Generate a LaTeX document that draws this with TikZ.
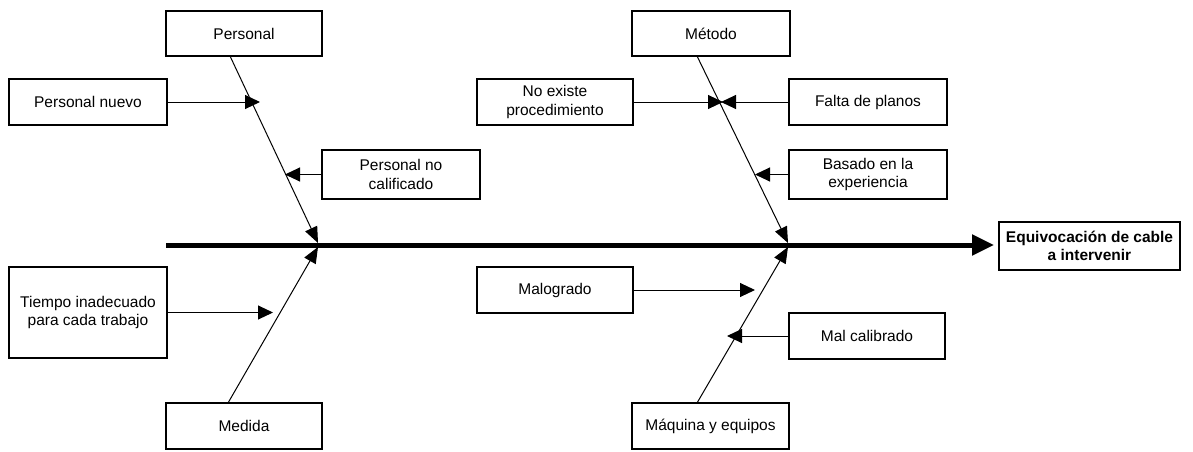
\documentclass[tikz,border=0pt]{standalone}
\usepackage{fontspec}
\setmainfont{Liberation Sans}
\usetikzlibrary{arrows.meta,calc}
\begin{document}
\begin{tikzpicture}[x=1pt,y=-1pt,
  box/.style={draw,line width=1.2pt,rectangle,inner sep=0pt,align=center,
    font=\fontsize{15.5}{18.5}\selectfont},
  headbox/.style={box,line width=2pt,font=\fontsize{15.5}{18.5}\selectfont\bfseries},
  bone/.style={line width=1pt,-{Triangle[length=16pt,width=13pt]}},
  subarrow/.style={line width=1pt,-{Triangle[length=15pt,width=14pt]}},
  spine/.style={line width=5pt,-{Triangle[length=22pt,width=20pt]}}]
\useasboundingbox (0,0) rectangle (1193,452);
% boxes
\node[box,minimum width=156,minimum height=45] (pers) at (244,33.5) {Personal};
\node[box,minimum width=158,minimum height=46] (pnuevo) at (88,102) {Personal nuevo};
\node[box,minimum width=158,minimum height=49] (pnocal) at (401,174.5) {Personal no\\calificado};
\node[box,minimum width=158,minimum height=91] (tiempo) at (88,312.5) {Tiempo inadecuado\\para cada trabajo};
\node[box,minimum width=156,minimum height=46] (medida) at (244,426) {Medida};
\node[box,minimum width=158,minimum height=45] (metodo) at (711,33.5) {Método};
\node[box,minimum width=156,minimum height=46] (noexiste) at (555,102) {No existe\\procedimiento};
\node[box,minimum width=158,minimum height=46] (falta) at (868,102) {Falta de planos};
\node[box,minimum width=158,minimum height=49] (basado) at (868,174.5) {Basado en la\\experiencia};
\node[box,minimum width=156,minimum height=46] (malogrado) at (555,290) {Malogrado};
\node[box,minimum width=156,minimum height=46] (malcal) at (867,336) {Mal calibrado};
\node[box,minimum width=157,minimum height=46] (maquina) at (710.5,426) {Máquina y equipos};
\node[headbox,minimum width=181,minimum height=48] (head) at (1089.5,246) {Equivocación de cable\\a intervenir};
% bone end points
\coordinate (persA) at (230,56);
\coordinate (persB) at (318,243);
\coordinate (medA) at (228,403);
\coordinate (medB) at (318,247);
\coordinate (metA) at (697,56);
\coordinate (metB) at (788,243);
\coordinate (maqA) at (697,403);
\coordinate (maqB) at (788,247);
\coordinate (sp0) at (166,245);
% sub arrow tips
\coordinate (t1) at (260,102);
\coordinate (t2) at (285,174.5);
\coordinate (t3) at (273,312.5);
\coordinate (t4) at (723,102);
\coordinate (t5) at (721,102);
\coordinate (t6) at (755,174.5);
\coordinate (t7) at (755,290);
\coordinate (t8) at (727,336);
% spine
\draw[spine] (sp0) -- ($(head.west|-sp0)+(-4,0)$);
% bones
\draw[bone] (persA) -- (persB);
\draw[bone] (medA) -- (medB);
\draw[bone] (metA) -- (metB);
\draw[bone] (maqA) -- (maqB);
% sub causes
\draw[subarrow] (pnuevo.east) -- (t1);
\draw[subarrow] (pnocal.west) -- (t2);
\draw[subarrow] (tiempo.east) -- (t3);
\draw[subarrow] (noexiste.east) -- (t4);
\draw[subarrow] (falta.west) -- (t5);
\draw[subarrow] (basado.west) -- (t6);
\draw[subarrow] (malogrado.east) -- (t7);
\draw[subarrow] (malcal.west) -- (t8);
\end{tikzpicture}
\end{document}
